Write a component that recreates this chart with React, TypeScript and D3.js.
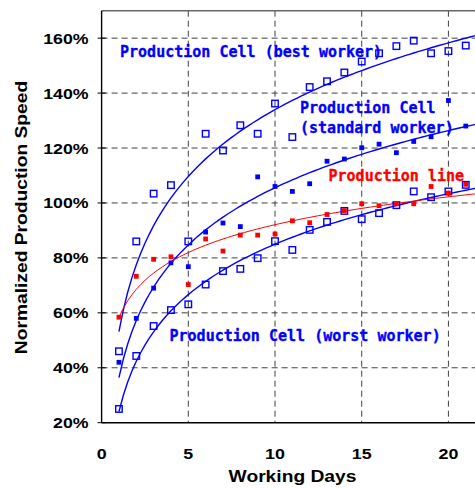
import React from "react";
import * as d3 from "d3";

// Working day index for every measurement
const days = [1, 2, 3, 4, 5, 6, 7, 8, 9, 10, 11, 12, 13, 14, 15, 16, 17, 18, 19, 20, 21];

// Normalized production speed (%) per working day
const bestWorker = [46, 86, 103.4, 106.5, 86, 125.2, 119.1, 128.3, 125.2, 136.2, 124, 142.2, 144.3, 147.5, 151.5, 154.5, 157.1, 159.1, 154.5, 155.3, 157.3];
const standardWorker = [42, 58, 69, 78.2, 76.8, 89.4, 92.7, 91.4, 109.5, 106, 104.2, 107, 115.2, 116, 120.1, 121.4, 118.3, 122.4, 124.1, 137.3, 128];
const worstWorker = [25, 44.3, 55.2, 61, 63.1, 70.3, 75.2, 76, 79.9, 86.1, 82.9, 90.2, 93.1, 97.1, 94.1, 96.3, 99.2, 104.2, 102.1, 104.2, 106.6];
const productionLine = [58.4, 73.3, 79.5, 80.4, 70.3, 86.9, 82.5, 88.3, 88.3, 88.7, 93.5, 92.8, 95.8, 97.2, 99.7, 99, 99.7, 99.7, 106, 103.6, 106.8];

const xTicks = [0, 5, 10, 15, 20];
const yTicks = [20, 40, 60, 80, 100, 120, 140, 160];

const W = 475;
const H = 488;
const BLUE = "#0000ff";
const RED = "#ff0000";
const GRID = "#404040";

const x = d3.scaleLinear().domain([0, 22]).range([101.6, 483.1]);
const y = d3.scaleLinear().domain([20, 170]).range([422.7, 10.7]);

// Least-squares logarithmic trendline: v = a + b * ln(day)
function logFit(xs: number[], ys: number[]) {
  const lx = xs.map(Math.log);
  const mx = d3.mean(lx) as number;
  const my = d3.mean(ys) as number;
  let sxy = 0;
  let sxx = 0;
  lx.forEach((l, i) => {
    sxy += (l - mx) * (ys[i] - my);
    sxx += (l - mx) * (l - mx);
  });
  const b = sxy / sxx;
  const a = my - b * mx;
  return (d: number) => a + b * Math.log(d);
}

const trendDays = d3.range(1, 22.01, 0.25);
const line = d3
  .line<number[]>()
  .x((p) => x(p[0]))
  .y((p) => y(p[1]));

function trendPath(values: number[]) {
  const f = logFit(days, values);
  return line(trendDays.map((d) => [d, f(d)])) as string;
}

const tickFont = {
  fontFamily: "'Liberation Sans', Arial, sans-serif",
  fontWeight: 700,
};
const labelFont = {
  fontFamily: "'DejaVu Sans Mono', monospace",
  fontWeight: 700,
  fontSize: 16.5,
};

function Label({ tx, ty, text, color = BLUE }: { tx: number; ty: number; text: string; color?: string }) {
  return (
    <text
      transform={`translate(${tx},${ty}) scale(0.911,1)`}
      style={{ ...labelFont, fill: color, stroke: color, strokeWidth: 0.35 }}
    >
      {text}
    </text>
  );
}

export default function App() {
  const x0 = x(0);
  const x1 = x(22);
  const yTop = y(170);
  const yBot = y(20);
  const open = 6.5;
  const filled = 4.8;

  return (
    <svg
      width={W}
      height={H}
      viewBox={`0 0 ${W} ${H}`}
      style={{ position: "absolute", left: 0, top: 0, background: "#fff" }}
    >
      <rect width={W} height={H} fill="#fff" />

      {/* dashed grid */}
      {yTicks.slice(1).map((t) => (
        <line key={`gy${t}`} x1={x0} x2={x1} y1={y(t)} y2={y(t)} stroke={GRID} strokeWidth={1} strokeDasharray="6,4" />
      ))}
      {xTicks.slice(1).map((t) => (
        <line key={`gx${t}`} x1={x(t)} x2={x(t)} y1={yTop} y2={yBot} stroke={GRID} strokeWidth={1} strokeDasharray="6,4" />
      ))}

      {/* frame */}
      <line x1={x0} x2={x1} y1={yTop} y2={yTop} stroke="#666" strokeWidth={1.6} />
      <line x1={x0} x2={x0} y1={yTop} y2={yBot} stroke="#000" strokeWidth={1.4} />
      <line x1={x0} x2={x1} y1={yBot} y2={yBot} stroke="#000" strokeWidth={1.4} />
      {yTicks.map((t) => (
        <line key={`ty${t}`} x1={x0 - 4} x2={x0 + 4} y1={y(t)} y2={y(t)} stroke="#000" strokeWidth={1} />
      ))}

      {/* trendlines */}
      <path d={trendPath(bestWorker)} fill="none" stroke={BLUE} strokeWidth={1.4} />
      <path d={trendPath(standardWorker)} fill="none" stroke={BLUE} strokeWidth={1.4} />
      <path d={trendPath(worstWorker)} fill="none" stroke={BLUE} strokeWidth={1.4} />
      <path d={trendPath(productionLine)} fill="none" stroke={RED} strokeWidth={1} />

      {/* markers */}
      {[bestWorker, worstWorker].map((s, si) =>
        s.map((v, i) => (
          <rect
            key={`o${si}-${i}`}
            x={x(days[i]) - open / 2}
            y={y(v) - open / 2}
            width={open}
            height={open}
            fill="none"
            stroke={BLUE}
            strokeWidth={1.4}
          />
        ))
      )}
      {standardWorker.map((v, i) => (
        <rect key={`s${i}`} x={x(days[i]) - filled / 2} y={y(v) - filled / 2} width={filled} height={filled} fill={BLUE} />
      ))}
      {productionLine.map((v, i) => (
        <rect key={`p${i}`} x={x(days[i]) - filled / 2} y={y(v) - filled / 2} width={filled} height={filled} fill={RED} />
      ))}

      {/* series labels */}
      <Label tx={120} ty={56.7} text="Production Cell (best worker)" />
      <Label tx={300} ty={113} text="Production Cell" />
      <Label tx={300} ty={133.3} text="(standard worker)" />
      <Label tx={328.5} ty={181} text="Production line" color={RED} />
      <Label tx={169.5} ty={340.7} text="Production Cell (worst worker)" />

      {/* tick labels */}
      {yTicks.map((t) => (
        <text
          key={`ly${t}`}
          transform={`translate(88.5,${y(t) + 5.5}) scale(1.15,1)`}
          textAnchor="end"
          style={{ ...tickFont, fontSize: 15.4 }}
          fill="#000"
        >
          {`${t}%`}
        </text>
      ))}
      {xTicks.map((t) => (
        <text
          key={`lx${t}`}
          transform={`translate(${x(t)},459.3) scale(1.16,1)`}
          textAnchor="middle"
          style={{ ...tickFont, fontSize: 15.4 }}
          fill="#000"
        >
          {t}
        </text>
      ))}

      {/* axis titles */}
      <text
        transform={`translate(292.5,481.5) scale(1.18,1)`}
        textAnchor="middle"
        style={{ ...tickFont, fontSize: 16.3 }}
        fill="#000"
      >
        Working Days
      </text>
      <text
        transform={`translate(26.8,217.5) rotate(-90) scale(1.18,1)`}
        textAnchor="middle"
        style={{ ...tickFont, fontSize: 16.3 }}
        fill="#000"
      >
        Normalized Production Speed
      </text>
    </svg>
  );
}
